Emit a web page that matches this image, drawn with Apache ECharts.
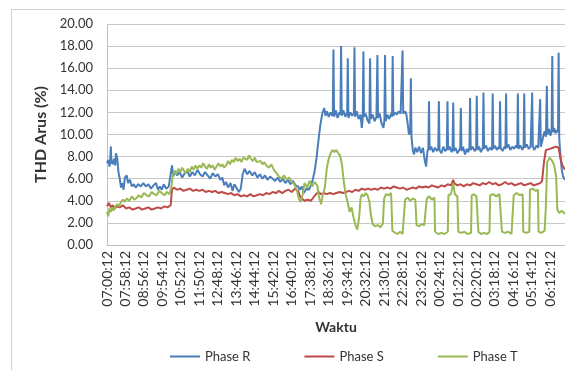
<!DOCTYPE html>
<html>
<head>
<meta charset="utf-8">
<script src="https://cdn.jsdelivr.net/npm/echarts@6/dist/echarts.min.js"></script>
<style>
  html, body { margin: 0; padding: 0; background: #fff; }
  #chart { width: 565px; height: 370px; }
</style>
</head>
<body>
<div id="chart"></div>
<script>
// Time-axis tick labels, one every 58 minutes starting at 07:00:12
const tickLabels = [
  '07:00:12', '07:58:12', '08:56:12', '09:54:12', '10:52:12', '11:50:12',
  '12:48:12', '13:46:12', '14:44:12', '15:42:12', '16:40:12', '17:38:12',
  '18:36:12', '19:34:12', '20:32:12', '21:30:12', '22:28:12', '23:26:12',
  '00:24:12', '01:22:12', '02:20:12', '03:18:12', '04:16:12', '05:14:12',
  '06:12:12'
];
const tickStep = 58;      // minutes between labels
const spanMinutes = 1438; // last sample, minutes after 07:00:12

// [minutes after 07:00:12, THD %]
const phaseR = [
  [0,7.4],[4,7.7],[8,7.1],[10,7.6],[12,8.9],[14,7.5],[18,7.3],[22,7.8],[26,7.2],[28,8.3],[32,7.9],[36,6.6],[40,6.0],[44,5.2],[48,5.6],[52,5.0],[56,6.1],[62,6.3],[66,5.6],[72,5.9],[78,5.3],[84,5.5],[90,5.2],[98,5.5],[106,5.3],[114,5.6],[122,5.3],[130,5.5],[138,5.1],[146,5.4],[154,5.6],[160,5.0],[166,5.3],[172,5.0],[178,5.5],[186,5.1],[194,5.3],[200,5.4],
  [204,7.2],[208,6.2],[214,6.7],[220,6.3],[228,6.6],[236,6.1],[244,6.5],[252,6.7],[260,6.2],[268,6.6],[276,6.3],[284,6.8],[292,6.4],[300,6.2],[308,6.6],[316,6.3],[324,6.0],[332,6.5],[340,6.2],[348,6.4],[356,5.9],[362,6.1],[368,5.4],[374,5.7],[380,5.2],[388,5.6],[394,4.9],[400,5.5],[408,5.1],[414,4.8],[420,5.1],
  [426,6.4],[432,6.9],[440,6.4],[448,6.7],[456,6.3],[464,6.6],[472,6.1],[480,6.4],[488,6.0],[496,6.3],[504,5.9],[512,6.2],[520,6.0],[528,5.8],[536,6.1],[544,5.7],[552,6.0],[560,5.6],[568,5.9],[576,5.5],[584,5.8],[592,5.4],[600,5.3],[606,5.0],[612,5.3],[618,4.7],[626,5.1],[634,5.0],[640,5.4],[646,5.9],[652,6.7],[658,7.9],[664,9.5],[670,10.9],[676,11.9],[682,12.4],
  [686,11.7],[690,12.1],[696,11.6],[702,12.0],[707,11.7],[709,11.9],[711,17.7],[713,11.6],[718,12.2],[724,11.5],[730,12.0],[733,11.8],[735,18.0],[737,11.7],[742,12.2],[748,11.6],[752,11.9],[754,11.7],[756,16.9],[758,11.5],[764,12.0],[770,11.7],[775,11.9],[777,17.9],[779,11.6],[784,12.1],[790,11.4],[796,11.8],[800,10.6],[803,11.5],[805,17.5],[807,11.6],[812,11.9],[818,11.3],[824,11.0],[826,16.9],[828,11.4],[834,11.8],[840,11.2],[846,11.6],[849,17.2],[851,11.5],[856,11.9],[862,11.0],[868,10.6],[871,11.3],[873,17.2],[875,11.2],[880,11.8],[886,11.4],[892,11.9],[895,11.6],[897,17.1],[899,11.7],[904,12.0],[910,11.8],[916,12.1],[922,11.9],[926,12.0],[928,17.6],[930,11.9],[936,12.1],[940,11.8],[944,11.0],[948,10.0],[952,10.2],[954,15.1],[956,9.8],
  [960,8.6],[964,8.2],[968,8.8],[974,8.4],[980,8.9],[986,8.3],[992,8.8],[998,7.6],[1002,7.1],[1006,8.5],[1009,8.7],[1011,13.0],[1013,8.6],[1018,8.9],[1024,8.4],[1030,8.8],[1036,8.5],[1040,8.7],[1042,13.0],[1044,8.6],[1050,8.3],[1056,8.9],[1062,8.5],[1067,8.7],[1069,13.0],[1071,8.6],[1076,8.9],[1082,8.4],[1085,8.7],[1087,12.9],[1089,8.5],[1094,8.8],[1100,8.3],[1106,8.6],[1109,8.8],[1111,12.4],[1113,8.5],[1118,8.9],[1124,8.2],[1130,8.7],[1134,8.4],[1138,8.8],[1140,13.3],[1142,8.6],[1148,8.9],[1154,8.5],[1159,8.7],[1161,13.5],[1163,8.6],[1168,8.9],[1174,8.4],[1180,8.8],[1182,13.8],[1184,8.7],[1190,9.0],[1196,8.5],[1202,8.8],[1209,8.6],[1211,13.7],[1213,8.7],[1218,9.0],[1224,8.6],[1230,8.9],[1232,8.7],[1234,13.0],[1236,8.8],[1242,8.5],[1248,8.9],[1251,8.7],[1253,13.7],[1255,8.8],[1260,9.1],[1266,8.6],[1272,8.9],[1278,8.7],[1284,9.0],[1288,8.8],[1290,13.7],[1292,8.7],[1298,9.0],[1304,8.6],[1308,8.9],[1310,13.7],[1312,8.8],[1318,9.1],[1324,8.7],[1330,8.9],[1333,8.8],[1335,13.8],[1337,8.9],[1342,8.6],[1348,9.0],[1354,8.8],[1358,8.9],[1360,13.2],[1362,8.9],
  [1366,9.3],[1370,9.9],[1374,10.3],[1378,9.8],[1381,14.4],[1383,10.0],[1388,10.5],[1392,9.9],[1396,10.3],[1398,17.1],[1400,10.2],[1404,10.6],[1408,10.1],[1412,10.4],[1416,10.2],[1418,17.4],[1420,9.6],[1424,8.0],[1428,6.8],[1432,6.2],[1438,5.9]
];

const phaseS = [
  [0,3.5],[6,3.8],[12,3.4],[18,3.6],[24,3.3],[30,3.5],[40,3.4],[50,3.6],[60,3.3],[70,3.4],[80,3.2],[90,3.3],[100,3.4],[110,3.2],[120,3.3],[130,3.4],[140,3.2],[150,3.3],[160,3.4],[170,3.3],[180,3.5],[190,3.4],[200,3.6],
  [204,5.0],[210,5.2],[220,5.0],[230,5.1],[240,4.9],[250,5.0],[260,5.1],[270,4.9],[280,5.0],[290,4.9],[300,5.0],[310,4.8],[320,4.9],[330,4.8],[340,4.9],[350,4.7],[360,4.8],[370,4.7],[380,4.6],[390,4.7],[400,4.5],[410,4.6],[420,4.4],[430,4.5],[440,4.4],[450,4.6],[460,4.4],[470,4.5],[480,4.6],[490,4.5],[500,4.7],[510,4.6],[520,4.8],[530,4.7],[540,4.9],[550,4.7],[560,4.9],[570,5.0],[580,4.8],[590,5.1],[600,4.9],[606,4.4],[612,4.2],[620,4.0],[630,4.1],[640,4.0],[648,4.3],[656,4.6],[664,4.8],[672,4.6],[680,4.7],
  [690,4.6],[700,4.7],[710,4.6],[720,4.7],[730,4.8],[740,4.7],[750,4.8],[760,4.9],[770,4.8],[780,5.0],[790,4.9],[800,5.1],[810,5.0],[820,5.1],[830,5.0],[840,5.1],[850,5.0],[860,5.2],[870,5.1],[880,5.2],[890,5.1],[900,5.3],[910,5.2],[920,5.1],[930,5.2],[940,5.0],[950,5.1],[960,5.2],[970,5.1],[980,5.3],[990,5.2],[1000,5.3],[1010,5.2],[1020,5.4],[1030,5.3],[1040,5.2],[1050,5.4],[1060,5.3],[1070,5.5],[1080,5.4],[1087,5.9],[1090,5.6],[1100,5.4],[1110,5.5],[1120,5.3],[1130,5.5],[1140,5.4],[1150,5.6],[1160,5.5],[1170,5.4],[1180,5.6],[1190,5.5],[1200,5.7],[1210,5.5],[1220,5.6],[1230,5.4],[1240,5.5],[1250,5.7],[1260,5.5],[1270,5.6],[1280,5.4],[1290,5.5],[1300,5.6],[1310,5.4],[1320,5.5],[1330,5.6],[1340,5.4],[1350,5.5],[1360,5.6],
  [1366,5.8],[1372,7.5],[1378,8.6],[1390,8.7],[1400,8.8],[1410,8.9],[1418,8.8],[1424,7.8],[1430,7.2],[1438,6.8]
];

const phaseT = [
  [0,3.0],[4,2.6],[8,3.3],[12,3.0],[16,3.4],[20,3.1],[26,3.5],[32,3.7],[38,3.5],[44,3.9],[50,4.1],[56,3.9],[62,4.2],[70,4.0],[78,4.4],[86,4.1],[94,4.3],[100,4.5],[108,4.3],[116,4.7],[124,4.5],[132,4.4],[140,4.8],[148,4.6],[156,4.5],[164,4.9],[172,4.7],[180,4.5],[188,4.8],[196,4.6],[202,5.2],
  [206,6.3],[212,6.7],[218,6.4],[224,6.9],[230,6.6],[236,7.0],[242,6.7],[248,6.5],[254,6.9],[260,6.6],[266,7.1],[272,6.8],[278,7.2],[284,6.9],[290,7.2],[296,7.0],[302,7.4],[308,7.1],[314,6.9],[320,7.3],[326,7.0],[332,7.2],[338,6.8],[344,7.1],[350,7.4],[356,7.1],[362,7.3],[368,7.0],[374,7.2],[380,7.6],[386,7.3],[392,7.7],[398,7.5],[404,7.9],[410,7.6],[416,7.8],[422,7.5],[428,7.9],[434,8.0],[440,7.7],[446,8.1],[452,7.8],[458,7.6],[464,7.9],[470,7.5],[476,7.4],[482,7.6],[488,7.3],[494,7.5],[500,7.2],[508,7.0],[516,7.3],[524,6.8],[532,6.5],[540,6.2],[548,6.0],[556,6.3],[564,5.9],[572,6.1],[580,5.7],[588,5.5],[596,5.0],[602,4.2],[608,3.9],[614,4.5],[620,5.6],[628,5.2],[636,5.8],[644,5.3],[652,5.7],[660,5.4],[666,4.3],[672,3.7],[678,4.6],[684,5.2],
  [690,6.9],[696,7.8],[702,8.3],[708,8.6],[714,8.4],[720,8.6],[726,8.3],[732,8.1],[738,7.2],[744,5.6],[750,4.5],[756,3.8],[762,3.0],[768,3.4],[774,2.5],[780,1.8],[786,1.4],[792,2.6],[796,4.2],[800,4.6],[806,4.4],[812,4.7],[818,4.5],[824,3.9],[828,2.8],[834,1.9],[842,1.7],[850,1.8],[858,1.6],[866,1.9],[870,4.2],[876,4.6],[884,4.5],[892,4.7],[896,1.3],[904,1.1],[912,1.0],[920,1.2],[928,1.0],[934,1.1],[936,4.1],[944,4.3],[952,4.0],[960,4.2],[968,4.1],[972,1.8],[980,1.7],[988,1.9],[996,1.8],[1002,1.7],[1004,4.2],[1012,4.4],[1020,4.1],[1028,4.3],[1030,1.2],[1040,1.0],[1050,1.1],[1060,1.0],[1070,1.2],[1072,4.5],[1080,4.6],[1087,5.6],[1092,4.6],[1100,4.4],[1103,1.2],[1112,1.1],[1122,1.2],[1132,1.0],[1143,1.1],[1145,4.5],[1152,4.6],[1160,4.4],[1165,4.5],[1166,1.2],[1174,1.0],[1184,1.1],[1194,1.0],[1201,1.2],[1203,4.5],[1212,4.6],[1222,4.4],[1232,4.6],[1238,4.5],[1240,1.2],[1250,1.1],[1260,1.2],[1270,1.0],[1275,1.1],[1277,4.5],[1286,4.7],[1296,4.5],[1305,4.6],[1307,1.2],[1316,1.1],[1326,1.2],[1328,5.0],[1336,5.1],[1346,4.9],[1353,5.0],[1355,1.2],[1364,1.1],[1374,1.3],[1378,3.5],[1382,7.5],[1390,7.9],[1398,7.6],[1404,7.2],[1410,6.2],[1414,3.2],[1420,2.9],[1428,3.1],[1438,2.8]
];

const seriesNames = ['Phase R', 'Phase S', 'Phase T'];
const seriesColors = ['#4A7EBB', '#BE4B48', '#98B954'];
const seriesData = [phaseR, phaseS, phaseT];

const chart = echarts.init(document.getElementById('chart'), null, { renderer: 'canvas' });
const font = 'Lato, "Open Sans", sans-serif';
const textColor = '#333333';

chart.setOption({
  animation: false,
  backgroundColor: '#ffffff',
  textStyle: { fontFamily: font },
  graphic: [{
    type: 'rect',
    silent: true,
    shape: { x: 11.5, y: 9.5, width: 600, height: 400 },
    style: { fill: 'none', stroke: '#d0d0d0', lineWidth: 1 }
  }],
  grid: { left: 107, right: 0, top: 24, bottom: 125 },
  xAxis: {
    type: 'value',
    min: 0,
    max: spanMinutes,
    interval: tickStep,
    axisLine: { show: true, lineStyle: { color: '#bfbfbf', width: 1 } },
    axisTick: { show: false },
    splitLine: { show: false },
    axisLabel: {
      rotate: 90,
      margin: 6,
      fontSize: 14,
      color: textColor,
      fontFamily: font,
      showMaxLabel: false,
      formatter: v => tickLabels[Math.round(v / tickStep)] || ''
    },
    name: 'Waktu',
    nameLocation: 'middle',
    nameGap: 75,
    nameTextStyle: { fontWeight: 'bold', fontSize: 14, color: textColor, fontFamily: font }
  },
  yAxis: {
    type: 'value',
    min: 0,
    max: 20,
    interval: 2,
    axisLine: { show: true, lineStyle: { color: '#bfbfbf', width: 1 } },
    axisTick: { show: false },
    splitLine: { lineStyle: { color: '#c8c8c8', width: 1 } },
    axisLabel: {
      margin: 14,
      fontSize: 13,
      color: textColor,
      fontFamily: font,
      formatter: v => v.toFixed(2)
    },
    name: 'THD Arus (%)',
    nameLocation: 'middle',
    nameGap: 42,
    nameTextStyle: { fontWeight: 'bold', fontSize: 16, color: textColor, fontFamily: font }
  },
  legend: {
    data: seriesNames,
    left: 165,
    top: 345,
    icon: 'rect',
    itemWidth: 30,
    itemHeight: 2,
    itemGap: 54,
    textStyle: { fontSize: 13, color: textColor, fontFamily: font }
  },
  series: seriesData.map((d, i) => ({
    name: seriesNames[i],
    type: 'line',
    data: d,
    showSymbol: false,
    symbol: 'none',
    lineStyle: { width: 2, color: seriesColors[i] },
    itemStyle: { color: seriesColors[i] },
    z: 2 + i
  }))
});
</script>
</body>
</html>
